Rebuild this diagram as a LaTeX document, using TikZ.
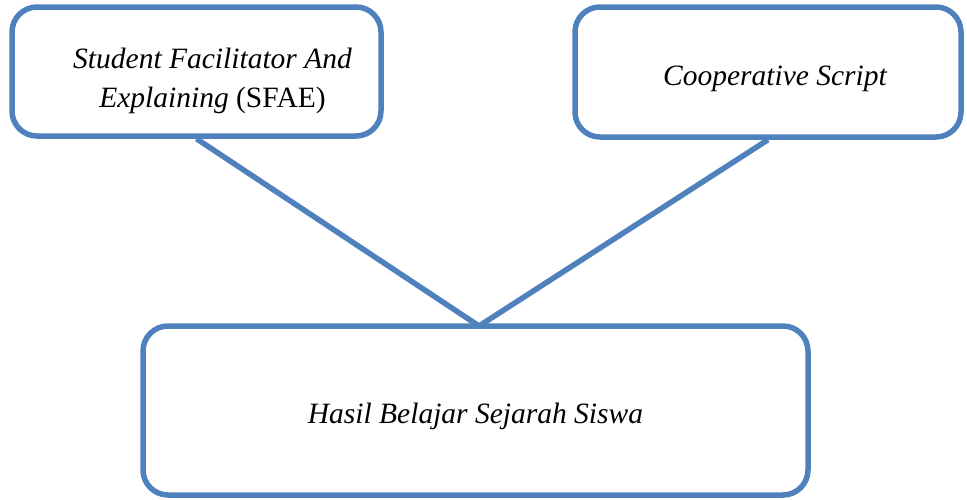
\documentclass[tikz,border=0pt]{standalone}
\usepackage{fontspec}
\setmainfont{Liberation Serif}
\usetikzlibrary{positioning, backgrounds}
\definecolor{edgeblue}{RGB}{79, 129, 189}
% push the text of a box a little off its middle (down, right)
\newcommand{\movetext}[3]{\hspace*{#2}\raisebox{0pt}[\dimexpr\height+#1\relax][\depth]{\begin{tabular}{@{}c@{}}#3\end{tabular}}}
\tikzset{
    font=\fontsize{29.5}{39}\selectfont\itshape,
    roundbox/.style={rectangle, rounded corners=25pt, draw=edgeblue, fill=white, line width=5.5pt, align=center, inner sep=0pt},
    link/.style={draw=edgeblue, line width=5.5pt}
}

\begin{document}
\begin{tikzpicture}[x=1pt, y=-1pt]

    \useasboundingbox (0,0) rectangle (967,499);

    \node (sfae) [roundbox, minimum width=369pt, minimum height=129pt] at (196.5,71.5) {\movetext{17pt}{32pt}{Student Facilitator And\\Explaining {\upshape(SFAE)}}};
    \node (coop) [roundbox, minimum width=386pt, minimum height=130pt] at (768,72) {\movetext{12pt}{14pt}{Cooperative Script}};
    \node (hasil) [roundbox, minimum width=665pt, minimum height=169pt] at (475.5,410.5) {\movetext{10pt}{0pt}{Hasil Belajar Sejarah Siswa}};

    \coordinate (meet) at (479,326);

    \begin{scope}[on background layer]
        \draw [link] (sfae.south) -- (meet);
        \draw [link] (coop.south) -- (meet);
    \end{scope}

\end{tikzpicture}
\end{document}
